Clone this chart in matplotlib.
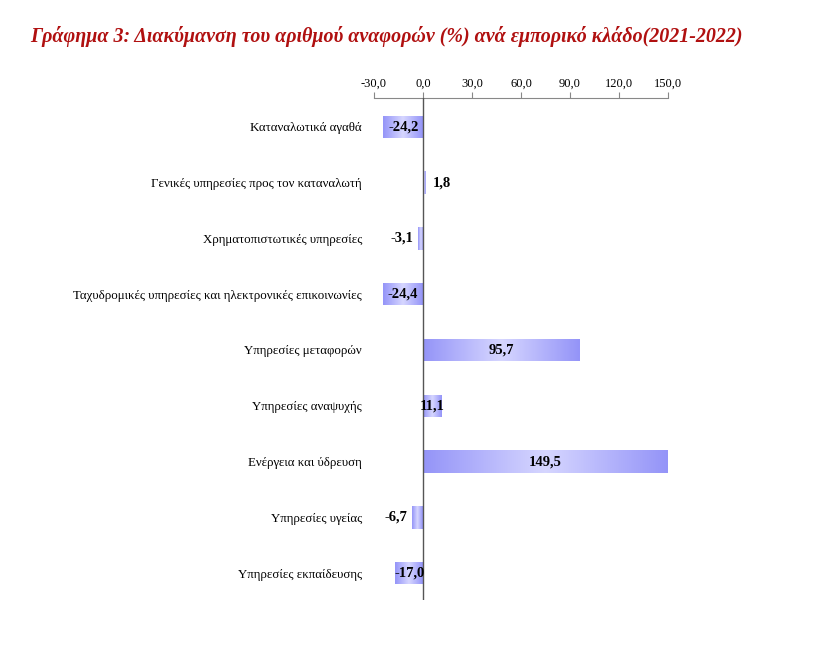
import numpy as np
import matplotlib
matplotlib.use("Agg")
import matplotlib.pyplot as plt
from matplotlib.colors import LinearSegmentedColormap

categories = [
    "Καταναλωτικά αγαθά",
    "Γενικές υπηρεσίες προς τον καταναλωτή",
    "Χρηματοπιστωτικές υπηρεσίες",
    "Ταχυδρομικές υπηρεσίες και ηλεκτρονικές επικοινωνίες",
    "Υπηρεσίες μεταφορών",
    "Υπηρεσίες αναψυχής",
    "Ενέργεια και ύδρευση",
    "Υπηρεσίες υγείας",
    "Υπηρεσίες εκπαίδευσης",
]
values = [-24.2, 1.8, -3.1, -24.4, 95.7, 11.1, 149.5, -6.7, -17.0]
xticks = [-30, 0, 30, 60, 90, 120, 150]

plt.rcParams['font.family'] = ['Liberation Serif', 'DejaVu Serif']

fig = plt.figure(figsize=(8.26, 6.48), dpi=100)
ax = fig.add_axes([0.4528, 0.074, 0.3559, 0.7752])

cmap = LinearSegmentedColormap.from_list("grad", ["#9494f8", "#d6d6ff", "#9494f8"])
grad = np.linspace(0, 1, 256).reshape(1, -1)
h = 0.4

for i, v in enumerate(values):
    bar = ax.barh(i, v, height=h, color="none", edgecolor="none")[0]
    x0, x1 = sorted([0, v])
    im = ax.imshow(grad, extent=[x0, x1, i + h / 2, i - h / 2], cmap=cmap,
                   aspect="auto", zorder=2)
    im.set_clip_path(bar)
    txt = ("%.1f" % v).replace(".", ",")
    if abs(v) >= 10:
        ax.text(v / 2, i, txt, ha="center", va="center", fontsize=10.5,
                fontweight="bold", zorder=4)
    elif v > 0:
        ax.text(v + 4, i, txt, ha="left", va="center", fontsize=10.5,
                fontweight="bold", zorder=4)
    else:
        ax.text(v - 3, i, txt, ha="right", va="center", fontsize=10.5,
                fontweight="bold", zorder=4)

ax.axvline(0, color="#555555", lw=1, zorder=3)
ax.set_xlim(-30, 150)
ax.set_ylim(8.48, -0.52)
ax.set_xticks(xticks)
ax.set_xticklabels([("%.1f" % t).replace(".", ",") for t in xticks], fontsize=9)
ax.xaxis.tick_top()
ax.tick_params(axis="x", direction="out", length=4, color="#888888", pad=2)
ax.set_yticks(range(len(categories)))
ax.set_yticklabels(categories, fontsize=9.3)
ax.tick_params(axis="y", length=0, pad=8.6)
for s in ["left", "right", "bottom"]:
    ax.spines[s].set_visible(False)
ax.spines["top"].set_color("#888888")

fig.text(0.036, 0.943, "Γράφημα 3: Διακύμανση του αριθμού αναφορών (%) ανά εμπορικό κλάδο(2021-2022)",
         fontsize=14.4, style="italic", fontweight="semibold", color="#b01010",
         ha="left", va="center")

fig.savefig("out.png", dpi=100)
